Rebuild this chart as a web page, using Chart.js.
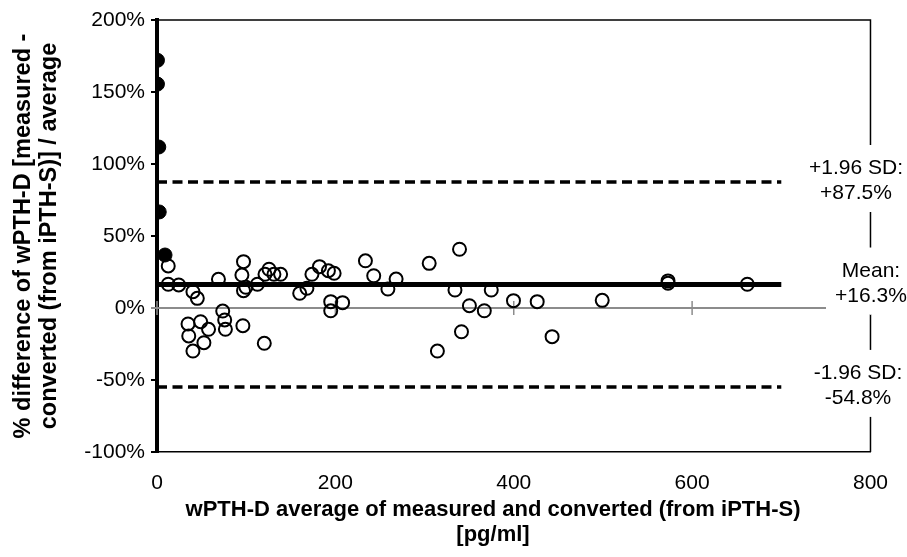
<!DOCTYPE html>
<html><head><meta charset="utf-8">
<script src="https://cdn.jsdelivr.net/npm/chart.js@4/dist/chart.umd.min.js"></script>
<style>html,body{margin:0;padding:0;background:#fff;} canvas{display:block;}</style>
</head><body>
<canvas id="c" width="907" height="557"></canvas>
<script>
const FONT = "'Liberation Sans', Arial, sans-serif";

// Open circles: x = average (pg/ml), y = % difference
const openX = [12.6, 12.6, 24.4, 40.3, 45.2, 34.8, 48.9, 57.8, 35.6, 52.6, 40.3, 68.9, 73.7, 75.9, 76.7,
  97, 95.2, 97, 99.7, 96.3, 112.6, 121.1, 125.6, 131.1, 138.6, 120.3, 160, 168.1, 173.7, 182.2,
  192.2, 198.6, 194.8, 194.8, 208.1, 233.7, 243, 268.1, 258.9, 305.2, 339.2, 334.1, 374.8, 350.3,
  367, 341.4, 314.4, 399.7, 426.3, 443, 499.2, 573, 573, 661.9];
const openY = [29.2, 16.5, 16.0, 11.3, 6.7, -11.1, -9.5, -14.8, -19.4, -24.1, -29.9, 19.9, -2.1, -8.3, -14.8,
  32.2, 22.9, 12.0, 14.4, -12.3, 16.5, 23.4, 26.9, 23.4, 23.4, -24.5, 10.2, 13.7, 23.4, 28.7,
  25.9, 24.1, 4.4, -1.9, 3.7, 32.8, 22.4, 20.1, 13.2, 31.0, 40.8, 12.5, 12.5, 1.6,
  -1.9, -16.5, -29.9, 5.1, 4.4, -19.9, 5.3, 18.8, 17.2, 16.5];
// Filled points
const filledX = [0.5, 0.5, 2, 2.5, 9];
const filledY = [172, 155.5, 111.8, 66.7, 36.8];

// Limits of agreement
const limitValues = [87.5, 16.3, -54.8];
const limitNames = ['+1.96 SD:', 'Mean:', '-1.96 SD:'];
const limitTexts = ['+87.5%', '+16.3%', '-54.8%'];
const lineRangeX = [0, 700];

const xTicks = [0, 200, 400, 600, 800];
const yTicks = [-100, -50, 0, 50, 100, 150, 200];
const xTitle = ['wPTH-D average of measured and converted (from iPTH-S)', '[pg/ml]'];
const yTitle = ['% difference of wPTH-D [measured -', 'converted (from iPTH-S)] / average'];

const pts = (xs, ys) => xs.map((v, i) => ({x: v, y: ys[i]}));

const limitDatasets = limitValues.map((v, i) => ({
  type: 'line',
  data: lineRangeX.map(x => ({x, y: v})),
  borderColor: '#000',
  borderWidth: i === 1 ? 5 : 3.5,
  borderDash: i === 1 ? [] : [10, 5.5],
  borderCapStyle: 'butt',
  pointRadius: 0,
  fill: false,
  order: 0
}));

const labelCenters = [856, 871, 858];

const decor = {
  id: 'decor',
  beforeDatasetsDraw(chart) {
    const {ctx, chartArea: a, scales: {x, y}} = chart;
    ctx.save();
    ctx.strokeStyle = '#000'; ctx.lineWidth = 1.5;
    ctx.beginPath(); ctx.moveTo(a.left, a.top); ctx.lineTo(a.right, a.top); ctx.lineTo(a.right, a.bottom); ctx.stroke();
    const y0 = y.getPixelForValue(0);
    ctx.strokeStyle = '#8c8c8c'; ctx.lineWidth = 2;
    ctx.beginPath(); ctx.moveTo(a.left - 6, y0); ctx.lineTo(a.right, y0); ctx.stroke();
    ctx.lineWidth = 1.5;
    xTicks.forEach(v => {
      const px = x.getPixelForValue(v);
      ctx.beginPath(); ctx.moveTo(px, y0 - 7); ctx.lineTo(px, y0 + 7); ctx.stroke();
    });
    ctx.restore();
  },
  afterDraw(chart) {
    const {ctx, chartArea: a, scales: {y}} = chart;
    ctx.save();
    ctx.font = '21px ' + FONT;
    ctx.textAlign = 'center'; ctx.textBaseline = 'middle';
    limitValues.forEach((v, i) => {
      const py = y.getPixelForValue(v);
      ctx.fillStyle = '#fff';
      ctx.fillRect(826, py - 37, 81, 67);
      ctx.fillStyle = '#000';
      ctx.fillText(limitNames[i], labelCenters[i], py - 13.5);
      ctx.fillText(limitTexts[i], labelCenters[i], py + 11.5);
    });
    ctx.font = 'bold 22px ' + FONT;
    ctx.fillText(xTitle[0], 493, 510);
    ctx.fillText(xTitle[1], 493, 535);
    ctx.restore();
  }
};

new Chart(document.getElementById('c'), {
  type: 'scatter',
  data: {
    datasets: [
      ...limitDatasets,
      {
        data: pts(filledX, filledY),
        backgroundColor: '#000', borderColor: '#000', borderWidth: 1,
        pointRadius: 7, order: 1
      },
      {
        data: pts(openX, openY),
        backgroundColor: 'rgba(0,0,0,0)', borderColor: '#000', borderWidth: 2,
        pointRadius: 6.5, order: 2
      }
    ]
  },
  options: {
    responsive: false,
    animation: false,
    devicePixelRatio: 1,
    layout: {padding: {top: 20, right: 30, bottom: 0, left: 0}},
    plugins: {legend: {display: false}, tooltip: {enabled: false}},
    scales: {
      x: {
        type: 'linear', min: 0, max: 800,
        afterBuildTicks: s => { s.ticks = xTicks.map(v => ({value: v})); },
        afterFit: s => { s.height = 105; },
        grid: {display: false, drawTicks: false},
        border: {display: true, color: '#000', width: 1.5},
        ticks: {color: '#000', padding: 19, font: {family: FONT, size: 21}}
      },
      y: {
        type: 'linear', min: -100, max: 200,
        afterBuildTicks: s => { s.ticks = yTicks.map(v => ({value: v})); },
        afterFit: s => { s.width = 157; },
        grid: {
          display: true, drawOnChartArea: false, drawTicks: true, tickLength: 6,
          color: c => (c.tick && c.tick.value === 0) ? '#8c8c8c' : '#000', lineWidth: 2
        },
        border: {display: true, color: '#000', width: 4},
        ticks: {color: '#000', padding: 6, font: {family: FONT, size: 21}, callback: v => v + '%'},
        title: {
          display: true, text: yTitle, color: '#000',
          font: {family: FONT, size: 23.5, weight: 'bold', lineHeight: 1.12},
          padding: {top: 10, bottom: 0}
        }
      }
    }
  },
  plugins: [decor]
});
</script>
</body></html>
